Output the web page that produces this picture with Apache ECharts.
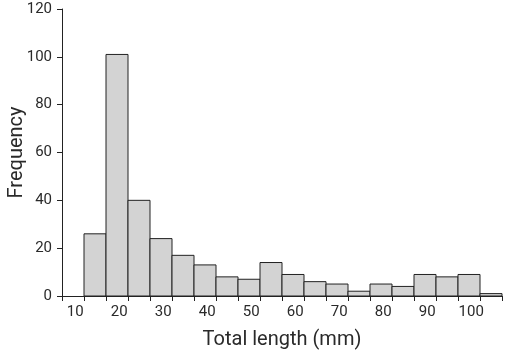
<!DOCTYPE html>
<html>
<head>
<meta charset="utf-8">
<script src="https://cdn.jsdelivr.net/npm/echarts@6/dist/echarts.min.js"></script>
<style>
html,body{margin:0;padding:0;background:#fff;}
#chart{width:510px;height:363px;}
</style>
</head>
<body>
<div id="chart"></div>
<script>
var binStarts = [12,17,22,27,32,37,42,47,52,57,62,67,72,77,82,87,92,97,102];
var binWidth = 5;
var frequencies = [26,101,40,24,17,13,8,7,14,9,6,5,2,5,4,9,8,9,1];
var xLabelValues = [10,20,30,40,50,60,70,80,90,100];
var xTickValues = [7,12,17,22,27,32,37,42,47,52,57,62,67,72,77,82,87,92,97,102,107];

var FONT = '"Liberation Sans Narrow", Roboto, "Liberation Sans", Arial, sans-serif';
var data = binStarts.map(function(s, i){ return [s, s + binWidth, frequencies[i]]; });

var chart = echarts.init(document.getElementById('chart'), null, {renderer:'canvas'});
chart.setOption({
  animation: false,
  grid: {left: 62, right: 8, top: 9, bottom: 67, containLabel: false, outerBoundsMode: 'none'},
  xAxis: {
    type: 'value', min: 7, max: 107,
    name: 'Total length (mm)', nameLocation: 'middle', nameGap: 34,
    nameTextStyle: {fontFamily: FONT, fontSize: 20, color: '#2a2a2a'},
    axisLine: {show: true, lineStyle: {color: '#222', width: 1}},
    axisTick: {show: true, customValues: xTickValues, length: 5, lineStyle: {color: '#222'}},
    axisLabel: {customValues: xLabelValues, fontFamily: FONT, fontSize: 15, color: '#2a2a2a', margin: 9},
    splitLine: {show: false}
  },
  yAxis: {
    type: 'value', min: 0, max: 120, interval: 20,
    name: 'Frequency', nameLocation: 'middle', nameGap: 35, nameMoveOverlap: false,
    nameTextStyle: {fontFamily: FONT, fontSize: 20, color: '#2a2a2a'},
    axisLine: {show: true, lineStyle: {color: '#222', width: 1}},
    axisTick: {show: true, length: 5, lineStyle: {color: '#222'}},
    axisLabel: {fontFamily: FONT, fontSize: 15, color: '#2a2a2a', margin: 10},
    splitLine: {show: false}
  },
  series: [{
    type: 'custom',
    data: data,
    encode: {x: [0, 1], y: 2},
    renderItem: function(params, api){
      var p0 = api.coord([api.value(0), api.value(2)]);
      var p1 = api.coord([api.value(1), 0]);
      return {
        type: 'rect',
        shape: {x: p0[0], y: p0[1], width: p1[0] - p0[0], height: p1[1] - p0[1]},
        style: {fill: '#d3d3d3', stroke: '#222', lineWidth: 1}
      };
    }
  }]
});
</script>
</body>
</html>
